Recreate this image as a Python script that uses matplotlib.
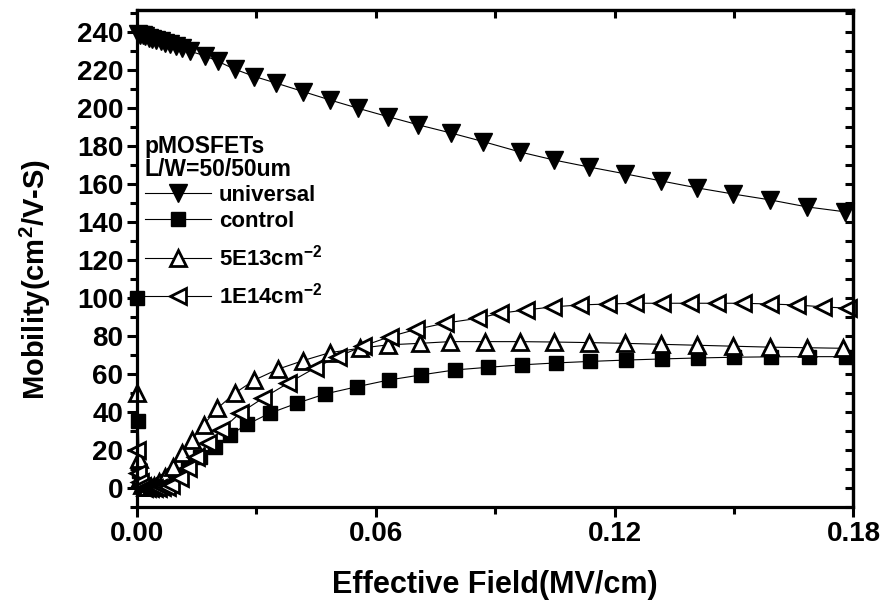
import numpy as np
import matplotlib.pyplot as plt
from matplotlib.ticker import MultipleLocator

plt.rcParams['font.family'] = ['Liberation Sans', 'DejaVu Sans']
plt.rcParams['font.weight'] = 'bold'
plt.rcParams['mathtext.fontset'] = 'custom'
plt.rcParams['mathtext.rm'] = 'Liberation Sans:bold'
plt.rcParams['mathtext.bf'] = 'Liberation Sans:bold'
plt.rcParams['mathtext.default'] = 'bf'

# effective field (MV/cm) and hole mobility (cm^2/V-s)
x_univ = [0.0003, 0.0008, 0.0014, 0.0021, 0.0029, 0.0038, 0.0048, 0.0059, 0.0071,
          0.0084, 0.0098, 0.0113, 0.0132, 0.0170, 0.0203, 0.0245, 0.0295, 0.0350,
          0.0417, 0.0484, 0.0555, 0.0630, 0.0706, 0.0790, 0.0869, 0.0962, 0.1047,
          0.1135, 0.1226, 0.1316, 0.1407, 0.1497, 0.1590, 0.1683, 0.1779]
y_univ = [239.0, 238.6, 238.1, 237.6, 237.0, 236.4, 235.7, 235.0, 234.2,
          233.4, 232.5, 231.4, 229.8, 227.5, 224.5, 220.4, 216.5, 213.0,
          208.6, 204.2, 199.8, 195.4, 191.1, 186.7, 182.3, 176.8, 172.6,
          168.9, 165.3, 161.6, 157.9, 154.7, 151.6, 147.9, 145.3]

x_ctrl = [0.0001, 0.0003, 0.0006, 0.0010, 0.0015, 0.0021, 0.0028, 0.0036, 0.0045,
          0.0055, 0.0066, 0.0079, 0.0094, 0.0127, 0.0157, 0.0195, 0.0233, 0.0277,
          0.0333, 0.0402, 0.0473, 0.0553, 0.0632, 0.0714, 0.0798, 0.0882, 0.0968,
          0.1053, 0.1139, 0.1228, 0.1319, 0.1409, 0.1500, 0.1593, 0.1688, 0.1781]
y_ctrl = [100.0, 35.0, 9.0, 3.0, 1.0, 0.2, 0.0, 0.0, 0.3,
          0.9, 2.0, 3.8, 6.8, 11.6, 16.5, 21.7, 27.9, 33.5,
          39.3, 44.6, 49.5, 53.3, 56.8, 59.5, 62.1, 63.5, 64.8,
          65.8, 66.6, 67.3, 67.9, 68.4, 68.8, 69.0, 69.1, 69.1]

x_5e13 = [0.0001, 0.0004, 0.0008, 0.0013, 0.0019, 0.0026, 0.0034, 0.0043, 0.0055,
          0.0069, 0.0090, 0.0114, 0.0138, 0.0167, 0.0202, 0.0245, 0.0295, 0.0354,
          0.0417, 0.0484, 0.0559, 0.0630, 0.0710, 0.0786, 0.0874, 0.0962, 0.1047,
          0.1135, 0.1226, 0.1316, 0.1407, 0.1497, 0.1590, 0.1683, 0.1774]
y_5e13 = [50.0, 15.0, 5.0, 1.5, 0.5, 0.3, 0.6, 1.3, 3.0,
          5.9, 11.2, 18.3, 25.3, 33.2, 41.9, 49.8, 56.8, 62.5,
          67.0, 71.2, 73.5, 75.3, 76.1, 77.0, 77.0, 77.0, 76.8,
          76.5, 76.1, 75.6, 75.1, 74.6, 74.1, 73.8, 73.5]

x_1e14 = [0.0001, 0.0003, 0.0007, 0.0012, 0.0018, 0.0025, 0.0033, 0.0042, 0.0052,
          0.0063, 0.0075, 0.0086, 0.0107, 0.0128, 0.0149, 0.0178, 0.0212, 0.0258,
          0.0316, 0.0379, 0.0446, 0.0505, 0.0568, 0.0635, 0.0702, 0.0773, 0.0857,
          0.0911, 0.0978, 0.1045, 0.1113, 0.1183, 0.1251, 0.1318, 0.1389, 0.1456,
          0.1522, 0.1590, 0.1657, 0.1723, 0.1786]
y_1e14 = [20.0, 8.0, 3.0, 1.0, 0.2, 0.0, 0.0, 0.0, 0.1,
          0.3, 0.7, 1.6, 5.1, 10.4, 16.5, 23.5, 30.5, 39.3,
          47.2, 55.1, 63.0, 69.1, 74.7, 79.6, 83.5, 86.7, 89.3,
          91.9, 93.7, 95.3, 96.3, 96.8, 97.2, 97.2, 97.2, 97.2,
          97.2, 96.8, 96.3, 95.3, 94.6]

fig = plt.figure(figsize=(8.87, 6.05), dpi=100)
ax = fig.add_axes([0.1545, 0.162, 0.8077, 0.8215])

line_kw = dict(color='black', lw=0.8, clip_on=False)
l_univ, = ax.plot(x_univ, y_univ, marker='v', ms=13, mfc='black', mec='black',
                  label='universal', **line_kw)
l_ctrl, = ax.plot(x_ctrl, y_ctrl, marker='s', ms=10, mfc='black', mec='black',
                  label='control', **line_kw)
l_5e13, = ax.plot(x_5e13, y_5e13, marker='^', ms=12, mfc='white', mec='black', mew=2,
                  label='5E13cm$^{-2}$', **line_kw)
l_1e14, = ax.plot(x_1e14, y_1e14, marker='<', ms=12, mfc='white', mec='black', mew=2,
                  label='1E14cm$^{-2}$', **line_kw)

ax.set_xlim(0, 0.18)
ax.set_ylim(-10, 251.5)
ax.xaxis.set_major_locator(MultipleLocator(0.06))
ax.xaxis.set_minor_locator(MultipleLocator(0.03))
ax.yaxis.set_major_locator(MultipleLocator(20))
ax.yaxis.set_minor_locator(MultipleLocator(10))
ax.set_xticklabels([f'{v:.2f}' for v in ax.get_xticks()])
ax.tick_params(which='major', direction='out', length=7, width=2.2, labelsize=20,
               top=False, right=False)
ax.tick_params(which='minor', direction='out', length=5, width=2.2,
               top=False, right=False)
ax.tick_params(axis='x', pad=3)
ax.tick_params(axis='y', pad=3)

for s in ax.spines.values():
    s.set_linewidth(2.3)

# inward ticks on top and right
top = ax.secondary_xaxis('top')
top.xaxis.set_major_locator(MultipleLocator(0.06))
top.xaxis.set_minor_locator(MultipleLocator(0.03))
top.tick_params(which='both', direction='in', length=6, width=2.2, labeltop=False)
right = ax.secondary_yaxis('right')
right.yaxis.set_major_locator(MultipleLocator(20))
right.yaxis.set_minor_locator(MultipleLocator(10))
right.tick_params(which='both', direction='in', length=6, width=2.2, labelright=False)
for sec in (top, right):
    for s in sec.spines.values():
        s.set_linewidth(2.3)

ax.set_xlabel('Effective Field(MV/cm)', fontsize=22, fontweight='bold', labelpad=17)
ax.set_ylabel('Mobility(cm$^2$/V-S)', fontsize=21, fontweight='bold')
ax.yaxis.set_label_coords(-0.118, 0.457)

# legend in two parts: the superscript rows sit further apart
leg_kw = dict(loc='upper left', frameon=False, fontsize=16, handlelength=3.0,
              handletextpad=0.35, borderaxespad=0.2, alignment='left')
leg1 = ax.legend(handles=[l_univ, l_ctrl], bbox_to_anchor=(-0.008, 0.776),
                 labelspacing=0.2, title='pMOSFETs\nL/W=50/50um',
                 title_fontsize=16.5, **leg_kw)
leg1.get_title().set_fontweight('bold')
leg1.get_title().set_linespacing(1.0)
ax.add_artist(leg1)
leg2 = ax.legend(handles=[l_5e13, l_1e14], bbox_to_anchor=(-0.008, 0.554),
                 labelspacing=0.53, **leg_kw)
for leg in (leg1, leg2):
    for h in leg.legend_handles:
        h.set_linewidth(0.8)

fig.savefig('out.png', dpi=100)
